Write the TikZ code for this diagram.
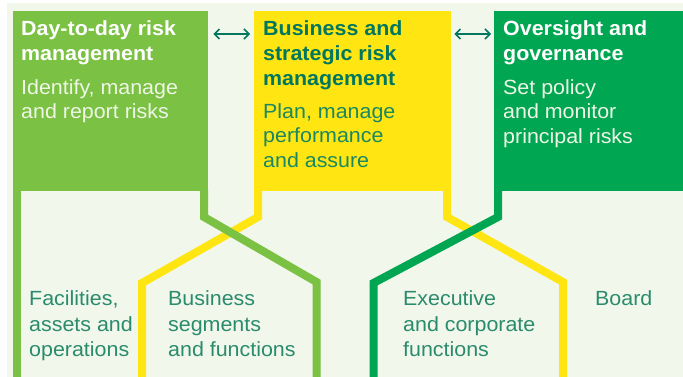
\documentclass[tikz,border=0pt]{standalone}
\usepackage{fontspec}
\setmainfont[FakeStretch=1.045]{Liberation Sans}
\usetikzlibrary{arrows.meta,calc}
\definecolor{bgc}{HTML}{F2F7EC}
\definecolor{lgreen}{HTML}{7BC143}
\definecolor{yel}{HTML}{FFE511}
\definecolor{dgreen}{HTML}{00A651}
\definecolor{tealdark}{HTML}{00775E}
\definecolor{tealmid}{HTML}{1A8862}
\definecolor{teallab}{HTML}{2A8B6D}
\definecolor{offwhite}{HTML}{EEF6E6}
\tikzset{
  box/.style={draw=none, inner sep=0pt, anchor=north west},
  ttl/.style={inner sep=0pt, anchor=north west, align=left, font=\fontsize{20.5}{25}\selectfont\bfseries},
  sub/.style={inner sep=0pt, anchor=north west, align=left, font=\fontsize{20.5}{24.5}\selectfont},
  lab/.style={inner sep=0pt, anchor=north west, align=left, text=teallab, font=\fontsize{20.5}{25.5}\selectfont},
  band/.style={line width=8pt, line join=miter, line cap=butt},
  arr/.style={draw=tealdark, line width=1.5pt, {Straight Barb[length=5pt,width=10pt]}-{Straight Barb[length=5pt,width=10pt]}}
}
\begin{document}
\begin{tikzpicture}[x=1pt,y=-1pt]
\useasboundingbox (0,0) rectangle (683,377);
\fill[white] (0,0) rectangle (683,377);
\fill[bgc] (7,3) rectangle (683,377);
% boxes
\node[box, fill=lgreen, minimum width=195pt, minimum height=180pt] (b1) at (13,11) {};
\node[box, fill=yel, minimum width=197pt, minimum height=180pt] (b2) at (254,11) {};
\node[box, fill=dgreen, minimum width=189pt, minimum height=180pt] (b3) at (494,11) {};
% bands
\draw[band, yel] (258,190) -- (258,217) -- (142,283) -- (142,378);
\draw[band, yel] (447,190) -- (447,217) -- (563,282) -- (563,378);
\draw[band, lgreen] (17,190) -- (17,378);
\draw[band, lgreen] (204,190) -- (204,217) -- (316.5,282) -- (316.5,378);
\draw[band, dgreen] (498,190) -- (498,217) -- (373.5,283) -- (373.5,378);
% arrows
\draw[arr] ($(b1.north east)+(5,23)$) -- ($(b2.north west)+(-4,23)$);
\draw[arr] ($(b2.north east)+(3,23)$) -- ($(b3.north west)+(-3,23)$);
% texts
\node[ttl, text=white] (t1) at (21,20.3) {Day-to-day risk\\management};
\node[sub, text=offwhite] (s1) at (21,79.3) {Identify, manage\\and report risks};
\node[ttl, text=tealdark] (t2) at (263,20.3) {Business and\\strategic risk\\management};
\node[sub, text=tealmid] (s2) at (263,103.3) {Plan, manage\\performance\\and assure};
\node[ttl, text=white] (t3) at (503,20.3) {Oversight and\\governance};
\node[sub, text=offwhite] (s3) at (503,79.3) {Set policy\\and monitor\\principal risks};
\node[lab] (l1) at (29,290.8) {Facilities,\\assets and\\operations};
\node[lab] (l2) at (168,290.8) {Business\\segments\\and functions};
\node[lab] (l3) at (403,290.8) {Executive\\and corporate\\functions};
\node[lab] (l4) at (595,290.8) {Board};
\end{tikzpicture}
\end{document}
